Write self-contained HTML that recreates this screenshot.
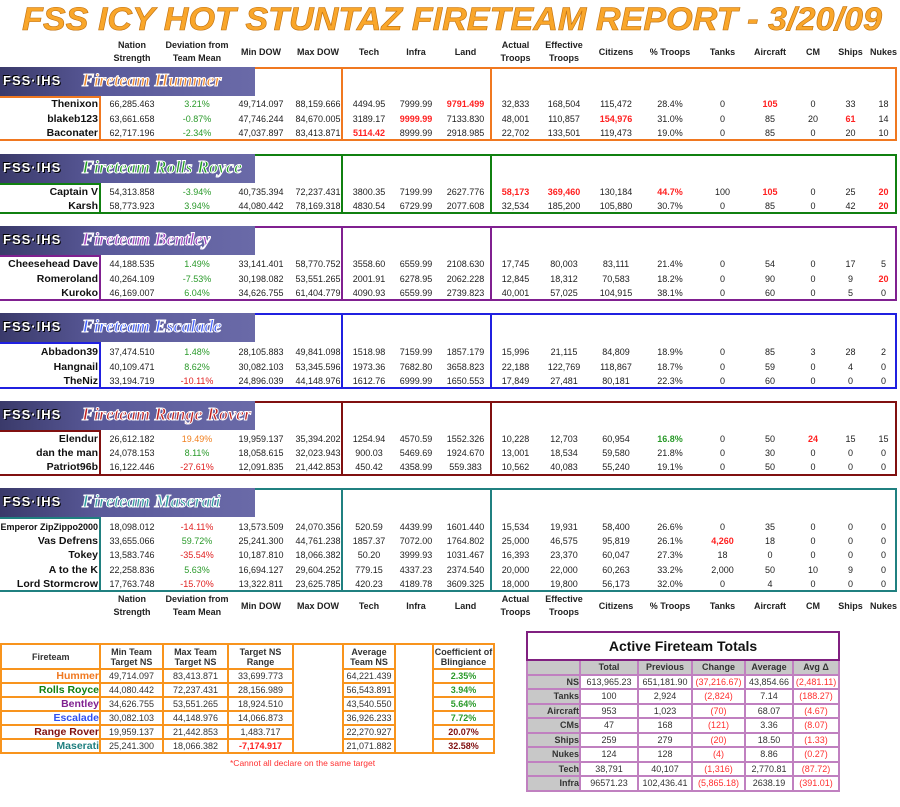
<!DOCTYPE html>
<html><head><meta charset="utf-8"><style>
body{margin:0;width:900px;height:807px;background:#fff;position:relative;font-family:"Liberation Sans",sans-serif;overflow:hidden}
.a{position:absolute}
.r{position:absolute;left:0;height:14px;line-height:14px;display:flex;font-size:9px;color:#222;white-space:nowrap}
.r span{display:block;text-align:center;overflow:visible}
.r span:nth-child(1){width:98px;text-align:right;font-weight:bold;font-size:10.5px;color:#111}
.r span:nth-child(2){width:64px;margin-left:2px}
.r span:nth-child(3){width:66px}
.r span:nth-child(4){width:62px}
.r span:nth-child(5){width:52px}
.r span:nth-child(6){width:50px}
.r span:nth-child(7){width:44px}
.r span:nth-child(8){width:55px}
.r span:nth-child(9){width:45px}
.r span:nth-child(10){width:52px}
.r span:nth-child(11){width:52px}
.r span:nth-child(12){width:56px}
.r span:nth-child(13){width:49px}
.r span:nth-child(14){width:46px}
.r span:nth-child(15){width:40px}
.r span:nth-child(16){width:35px}
.r span:nth-child(17){width:31px}
.h{font-weight:bold;height:28px;line-height:13px;align-items:center}
.h span{font-size:9px!important}
.red{color:#ff2020!important;font-weight:bold}
.g{color:#2a9a2a!important}
.o{color:#f08020!important}
.rd{color:#e02020!important}
.blk{position:absolute;left:0;width:897px;box-sizing:border-box}
.ban{position:absolute;left:0;width:255px;height:29px;background:linear-gradient(90deg,#3a3a6a,#5a5a9a 40%,#6a6aa8);overflow:hidden}
.ban .f{position:absolute;left:3px;top:6px;font:bold 13px "Liberation Sans",sans-serif;color:#fff;text-shadow:1px 1px 0 #000,-1px -1px 0 #000;letter-spacing:1px}
.ban .t{position:absolute;left:82px;top:3px;font:italic bold 18px "Liberation Serif",serif;-webkit-text-stroke:1px #fff}
table{border-collapse:collapse;table-layout:fixed}
.bt td{border:2px solid #f8941d;font-size:9px;text-align:center;height:10.5px;padding:0;color:#333;overflow:hidden;white-space:nowrap}
.pt td{border:2px solid #c080c0;font-size:9px;text-align:center;height:12.5px;padding:0;color:#333;white-space:nowrap}
</style></head><body>
<svg class="a" style="left:0;top:0" width="900" height="36"><text x="22" y="30" textLength="860" lengthAdjust="spacingAndGlyphs" font-family="Liberation Sans" font-weight="bold" font-style="italic" font-size="32" fill="#f9a62a" stroke="#c07010" stroke-width="0.6">FSS ICY HOT STUNTAZ FIRETEAM REPORT - 3/20/09</text></svg>

<div class="r h" style="top:38px"><span></span><span>Nation<br>Strength</span><span>Deviation from<br>Team Mean</span><span>Min DOW</span><span>Max DOW</span><span>Tech</span><span>Infra</span><span>Land</span><span>Actual<br>Troops</span><span>Effective<br>Troops</span><span>Citizens</span><span>% Troops</span><span>Tanks</span><span>Aircraft</span><span>CM</span><span>Ships</span><span>Nukes</span></div>
<div class="r h" style="top:592px"><span></span><span>Nation<br>Strength</span><span>Deviation from<br>Team Mean</span><span>Min DOW</span><span>Max DOW</span><span>Tech</span><span>Infra</span><span>Land</span><span>Actual<br>Troops</span><span>Effective<br>Troops</span><span>Citizens</span><span>% Troops</span><span>Tanks</span><span>Aircraft</span><span>CM</span><span>Ships</span><span>Nukes</span></div>

<!-- Hummer -->
<div class="blk" style="top:67px;height:74px;border:2px solid #f07820;border-left:none"></div>
<div class="a" style="left:99px;top:96px;width:2px;height:45px;background:#f07820"></div>
<div class="a" style="left:0;top:96px;width:100px;height:2px;background:#f07820"></div>
<div class="a" style="left:341px;top:67px;width:2px;height:74px;background:#f07820"></div>
<div class="a" style="left:490px;top:67px;width:2px;height:74px;background:#f07820"></div>
<div class="ban" style="top:67px"><div class="f">FSS·IHS</div><div class="t" style="color:#f08828">Fireteam Hummer</div></div>
<div class="r" style="top:97px"><span>Thenixon</span><span>66,285.463</span><span class="g">3.21%</span><span>49,714.097</span><span>88,159.666</span><span>4494.95</span><span>7999.99</span><span class="red">9791.499</span><span>32,833</span><span>168,504</span><span>115,472</span><span>28.4%</span><span>0</span><span class="red">105</span><span>0</span><span>33</span><span>18</span></div>
<div class="r" style="top:112px"><span>blakeb123</span><span>63,661.658</span><span class="g">-0.87%</span><span>47,746.244</span><span>84,670.005</span><span>3189.17</span><span class="red">9999.99</span><span>7133.830</span><span>48,001</span><span>110,857</span><span class="red">154,976</span><span>31.0%</span><span>0</span><span>85</span><span>20</span><span class="red">61</span><span>14</span></div>
<div class="r" style="top:126px"><span>Baconater</span><span>62,717.196</span><span class="g">-2.34%</span><span>47,037.897</span><span>83,413.871</span><span class="red">5114.42</span><span>8999.99</span><span>2918.985</span><span>22,702</span><span>133,501</span><span>119,473</span><span>19.0%</span><span>0</span><span>85</span><span>0</span><span>20</span><span>10</span></div>

<!-- Rolls -->
<div class="blk" style="top:154px;height:60px;border:2px solid #108010;border-left:none"></div>
<div class="a" style="left:99px;top:183px;width:2px;height:31px;background:#108010"></div>
<div class="a" style="left:0;top:183px;width:100px;height:2px;background:#108010"></div>
<div class="a" style="left:341px;top:154px;width:2px;height:60px;background:#108010"></div>
<div class="a" style="left:490px;top:154px;width:2px;height:60px;background:#108010"></div>
<div class="ban" style="top:154px"><div class="f">FSS·IHS</div><div class="t" style="color:#20a020">Fireteam Rolls Royce</div></div>
<div class="r" style="top:185px"><span>Captain V</span><span>54,313.858</span><span class="g">-3.94%</span><span>40,735.394</span><span>72,237.431</span><span>3800.35</span><span>7199.99</span><span>2627.776</span><span class="red">58,173</span><span class="red">369,460</span><span>130,184</span><span class="red">44.7%</span><span>100</span><span class="red">105</span><span>0</span><span>25</span><span class="red">20</span></div>
<div class="r" style="top:199px"><span>Karsh</span><span>58,773.923</span><span class="g">3.94%</span><span>44,080.442</span><span>78,169.318</span><span>4830.54</span><span>6729.99</span><span>2077.608</span><span>32,534</span><span>185,200</span><span>105,880</span><span>30.7%</span><span>0</span><span>85</span><span>0</span><span>42</span><span class="red">20</span></div>

<!-- Bentley -->
<div class="blk" style="top:226px;height:75px;border:2px solid #802090;border-left:none"></div>
<div class="a" style="left:99px;top:255px;width:2px;height:46px;background:#802090"></div>
<div class="a" style="left:0;top:255px;width:100px;height:2px;background:#802090"></div>
<div class="a" style="left:341px;top:226px;width:2px;height:75px;background:#802090"></div>
<div class="a" style="left:490px;top:226px;width:2px;height:75px;background:#802090"></div>
<div class="ban" style="top:226px"><div class="f">FSS·IHS</div><div class="t" style="color:#a040c0">Fireteam Bentley</div></div>
<div class="r" style="top:257px"><span>Cheesehead Dave</span><span>44,188.535</span><span class="g">1.49%</span><span>33,141.401</span><span>58,770.752</span><span>3558.60</span><span>6559.99</span><span>2108.630</span><span>17,745</span><span>80,003</span><span>83,111</span><span>21.4%</span><span>0</span><span>54</span><span>0</span><span>17</span><span>5</span></div>
<div class="r" style="top:272px"><span>Romeroland</span><span>40,264.109</span><span class="g">-7.53%</span><span>30,198.082</span><span>53,551.265</span><span>2001.91</span><span>6278.95</span><span>2062.228</span><span>12,845</span><span>18,312</span><span>70,583</span><span>18.2%</span><span>0</span><span>90</span><span>0</span><span>9</span><span class="red">20</span></div>
<div class="r" style="top:286px"><span>Kuroko</span><span>46,169.007</span><span class="g">6.04%</span><span>34,626.755</span><span>61,404.779</span><span>4090.93</span><span>6559.99</span><span>2739.823</span><span>40,001</span><span>57,025</span><span>104,915</span><span>38.1%</span><span>0</span><span>60</span><span>0</span><span>5</span><span>0</span></div>

<!-- Escalade -->
<div class="blk" style="top:313px;height:76px;border:2px solid #2020e0;border-left:none"></div>
<div class="a" style="left:99px;top:342px;width:2px;height:47px;background:#2020e0"></div>
<div class="a" style="left:0;top:342px;width:100px;height:2px;background:#2020e0"></div>
<div class="a" style="left:341px;top:313px;width:2px;height:76px;background:#2020e0"></div>
<div class="a" style="left:490px;top:313px;width:2px;height:76px;background:#2020e0"></div>
<div class="ban" style="top:313px"><div class="f">FSS·IHS</div><div class="t" style="color:#4060ff">Fireteam Escalade</div></div>
<div class="r" style="top:345px"><span>Abbadon39</span><span>37,474.510</span><span class="g">1.48%</span><span>28,105.883</span><span>49,841.098</span><span>1518.98</span><span>7159.99</span><span>1857.179</span><span>15,996</span><span>21,115</span><span>84,809</span><span>18.9%</span><span>0</span><span>85</span><span>3</span><span>28</span><span>2</span></div>
<div class="r" style="top:360px"><span>Hangnail</span><span>40,109.471</span><span class="g">8.62%</span><span>30,082.103</span><span>53,345.596</span><span>1973.36</span><span>7682.80</span><span>3658.823</span><span>22,188</span><span>122,769</span><span>118,867</span><span>18.7%</span><span>0</span><span>59</span><span>0</span><span>4</span><span>0</span></div>
<div class="r" style="top:374px"><span>TheNiz</span><span>33,194.719</span><span class="rd">-10.11%</span><span>24,896.039</span><span>44,148.976</span><span>1612.76</span><span>6999.99</span><span>1650.553</span><span>17,849</span><span>27,481</span><span>80,181</span><span>22.3%</span><span>0</span><span>60</span><span>0</span><span>0</span><span>0</span></div>

<!-- Range Rover -->
<div class="blk" style="top:401px;height:75px;border:2px solid #801010;border-left:none"></div>
<div class="a" style="left:99px;top:430px;width:2px;height:46px;background:#801010"></div>
<div class="a" style="left:0;top:430px;width:100px;height:2px;background:#801010"></div>
<div class="a" style="left:341px;top:401px;width:2px;height:75px;background:#801010"></div>
<div class="a" style="left:490px;top:401px;width:2px;height:75px;background:#801010"></div>
<div class="ban" style="top:401px"><div class="f">FSS·IHS</div><div class="t" style="color:#c02020">Fireteam Range Rover</div></div>
<div class="r" style="top:432px"><span>Elendur</span><span>26,612.182</span><span class="o">19.49%</span><span>19,959.137</span><span>35,394.202</span><span>1254.94</span><span>4570.59</span><span>1552.326</span><span>10,228</span><span>12,703</span><span>60,954</span><span class="g" style="font-weight:bold">16.8%</span><span>0</span><span>50</span><span class="red">24</span><span>15</span><span>15</span></div>
<div class="r" style="top:446px"><span>dan the man</span><span>24,078.153</span><span class="g">8.11%</span><span>18,058.615</span><span>32,023.943</span><span>900.03</span><span>5469.69</span><span>1924.670</span><span>13,001</span><span>18,534</span><span>59,580</span><span>21.8%</span><span>0</span><span>30</span><span>0</span><span>0</span><span>0</span></div>
<div class="r" style="top:460px"><span>Patriot96b</span><span>16,122.446</span><span class="rd">-27.61%</span><span>12,091.835</span><span>21,442.853</span><span>450.42</span><span>4358.99</span><span>559.383</span><span>10,562</span><span>40,083</span><span>55,240</span><span>19.1%</span><span>0</span><span>50</span><span>0</span><span>0</span><span>0</span></div>

<!-- Maserati -->
<div class="blk" style="top:488px;height:104px;border:2px solid #208080;border-left:none"></div>
<div class="a" style="left:99px;top:517px;width:2px;height:75px;background:#208080"></div>
<div class="a" style="left:0;top:517px;width:100px;height:2px;background:#208080"></div>
<div class="a" style="left:341px;top:488px;width:2px;height:104px;background:#208080"></div>
<div class="a" style="left:490px;top:488px;width:2px;height:104px;background:#208080"></div>
<div class="ban" style="top:488px"><div class="f">FSS·IHS</div><div class="t" style="color:#30a0a0">Fireteam Maserati</div></div>
<div class="r" style="top:520px"><span style="font-size:9px">Emperor ZipZippo2000</span><span>18,098.012</span><span class="rd">-14.11%</span><span>13,573.509</span><span>24,070.356</span><span>520.59</span><span>4439.99</span><span>1601.440</span><span>15,534</span><span>19,931</span><span>58,400</span><span>26.6%</span><span>0</span><span>35</span><span>0</span><span>0</span><span>0</span></div>
<div class="r" style="top:534px"><span>Vas Defrens</span><span>33,655.066</span><span class="g">59.72%</span><span>25,241.300</span><span>44,761.238</span><span>1857.37</span><span>7072.00</span><span>1764.802</span><span>25,000</span><span>46,575</span><span>95,819</span><span>26.1%</span><span class="red">4,260</span><span>18</span><span>0</span><span>0</span><span>0</span></div>
<div class="r" style="top:548px"><span>Tokey</span><span>13,583.746</span><span class="rd">-35.54%</span><span>10,187.810</span><span>18,066.382</span><span>50.20</span><span>3999.93</span><span>1031.467</span><span>16,393</span><span>23,370</span><span>60,047</span><span>27.3%</span><span>18</span><span>0</span><span>0</span><span>0</span><span>0</span></div>
<div class="r" style="top:563px"><span>A to the K</span><span>22,258.836</span><span class="g">5.63%</span><span>16,694.127</span><span>29,604.252</span><span>779.15</span><span>4337.23</span><span>2374.540</span><span>20,000</span><span>22,000</span><span>60,263</span><span>33.2%</span><span>2,000</span><span>50</span><span>10</span><span>9</span><span>0</span></div>
<div class="r" style="top:577px"><span>Lord Stormcrow</span><span>17,763.748</span><span class="rd">-15.70%</span><span>13,322.811</span><span>23,625.785</span><span>420.23</span><span>4189.78</span><span>3609.325</span><span>18,000</span><span>19,800</span><span>56,173</span><span>32.0%</span><span>0</span><span>4</span><span>0</span><span>0</span><span>0</span></div>

<!-- bottom left -->
<table class="a bt" style="left:0;top:643px;width:493px">
<colgroup><col style="width:99px"><col style="width:63px"><col style="width:65px"><col style="width:65px"><col style="width:50px"><col style="width:52px"><col style="width:38px"><col style="width:61px"></colgroup>
<tr style="height:25px"><td style="text-align:left;padding-left:30px;font-weight:bold">Fireteam</td><td style="font-weight:bold;white-space:normal">Min Team<br>Target NS</td><td style="font-weight:bold;white-space:normal">Max Team<br>Target NS</td><td style="font-weight:bold;white-space:normal">Target NS<br>Range</td><td rowspan="7"></td><td style="font-weight:bold;white-space:normal">Average<br>Team NS</td><td rowspan="7"></td><td style="font-weight:bold;white-space:normal">Coefficient of<br>Blingiance</td></tr>
<tr><td style="text-align:right;font-weight:bold;font-size:10.5px;color:#f07820">Hummer</td><td>49,714.097</td><td>83,413.871</td><td>33,699.773</td><td>64,221.439</td><td style="color:#2a9a2a;font-weight:bold">2.35%</td></tr>
<tr><td style="text-align:right;font-weight:bold;font-size:10.5px;color:#108010">Rolls Royce</td><td>44,080.442</td><td>72,237.431</td><td>28,156.989</td><td>56,543.891</td><td style="color:#2a9a2a;font-weight:bold">3.94%</td></tr>
<tr><td style="text-align:right;font-weight:bold;font-size:10.5px;color:#802090">Bentley</td><td>34,626.755</td><td>53,551.265</td><td>18,924.510</td><td>43,540.550</td><td style="color:#2a9a2a;font-weight:bold">5.64%</td></tr>
<tr><td style="text-align:right;font-weight:bold;font-size:10.5px;color:#3050f0">Escalade</td><td>30,082.103</td><td>44,148.976</td><td>14,066.873</td><td>36,926.233</td><td style="color:#2a9a2a;font-weight:bold">7.72%</td></tr>
<tr><td style="text-align:right;font-weight:bold;font-size:10.5px;color:#801010">Range Rover</td><td>19,959.137</td><td>21,442.853</td><td>1,483.717</td><td>22,270.927</td><td style="color:#801010;font-weight:bold">20.07%</td></tr>
<tr><td style="text-align:right;font-weight:bold;font-size:10.5px;color:#208080">Maserati</td><td>25,241.300</td><td>18,066.382</td><td style="color:#ff2020;font-weight:bold">-7,174.917</td><td>21,071.882</td><td style="color:#801010;font-weight:bold">32.58%</td></tr>
</table>
<div class="a" style="left:230px;top:758px;font-size:8.5px;color:#ff3030">*Cannot all declare on the same target</div>

<!-- bottom right -->
<table class="a pt" style="left:526px;top:631px;width:314px;border:2px solid #802080">
<colgroup><col style="width:53px"><col style="width:58px"><col style="width:54px"><col style="width:53px"><col style="width:48px"><col style="width:46px"></colgroup>
<tr style="height:28px"><td colspan="6" style="font-size:14px;font-weight:bold;color:#111;border-color:#802080">Active Fireteam Totals</td></tr>
<tr style="background:#c8c8c8"><td></td><td style="font-weight:bold">Total</td><td style="font-weight:bold">Previous</td><td style="font-weight:bold">Change</td><td style="font-weight:bold">Average</td><td style="font-weight:bold">Avg Δ</td></tr>
<tr><td style="background:#c8c8c8;text-align:right;font-weight:bold">NS</td><td>613,965.23</td><td>651,181.90</td><td style="color:#ff3030">(37,216.67)</td><td>43,854.66</td><td style="color:#ff3030">(2,481.11)</td></tr>
<tr><td style="background:#c8c8c8;text-align:right;font-weight:bold">Tanks</td><td>100</td><td>2,924</td><td style="color:#ff3030">(2,824)</td><td>7.14</td><td style="color:#ff3030">(188.27)</td></tr>
<tr><td style="background:#c8c8c8;text-align:right;font-weight:bold">Aircraft</td><td>953</td><td>1,023</td><td style="color:#ff3030">(70)</td><td>68.07</td><td style="color:#ff3030">(4.67)</td></tr>
<tr><td style="background:#c8c8c8;text-align:right;font-weight:bold">CMs</td><td>47</td><td>168</td><td style="color:#ff3030">(121)</td><td>3.36</td><td style="color:#ff3030">(8.07)</td></tr>
<tr><td style="background:#c8c8c8;text-align:right;font-weight:bold">Ships</td><td>259</td><td>279</td><td style="color:#ff3030">(20)</td><td>18.50</td><td style="color:#ff3030">(1.33)</td></tr>
<tr><td style="background:#c8c8c8;text-align:right;font-weight:bold">Nukes</td><td>124</td><td>128</td><td style="color:#ff3030">(4)</td><td>8.86</td><td style="color:#ff3030">(0.27)</td></tr>
<tr><td style="background:#c8c8c8;text-align:right;font-weight:bold">Tech</td><td>38,791</td><td>40,107</td><td style="color:#ff3030">(1,316)</td><td>2,770.81</td><td style="color:#ff3030">(87.72)</td></tr>
<tr><td style="background:#c8c8c8;text-align:right;font-weight:bold">Infra</td><td>96571.23</td><td>102,436.41</td><td style="color:#ff3030">(5,865.18)</td><td>2638.19</td><td style="color:#ff3030">(391.01)</td></tr>
</table>
</body></html>
